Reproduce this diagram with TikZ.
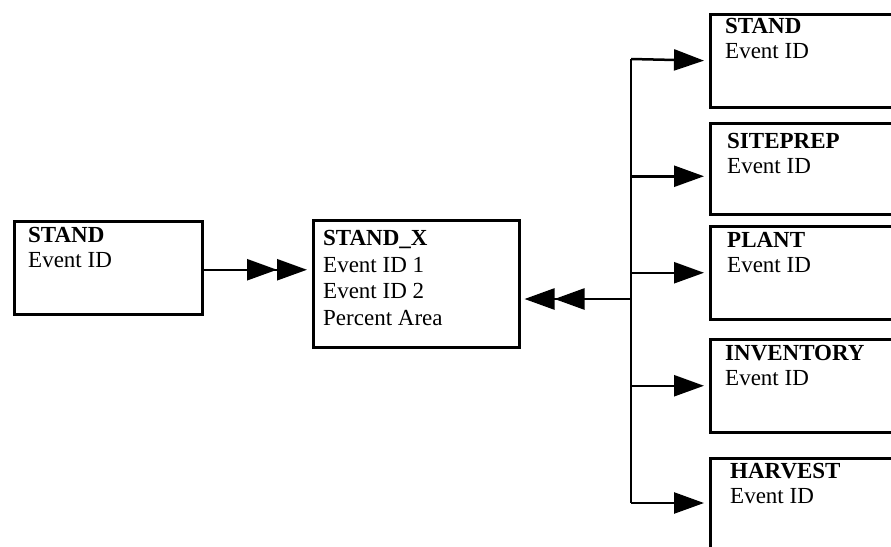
\documentclass[tikz,border=0pt]{standalone}
\usepackage{fontspec}
\setmainfont{Liberation Serif}
\usetikzlibrary{arrows.meta}

\begin{document}
\begin{tikzpicture}
[x=1pt,y=-1pt
,box/.style={draw,line width=2.5pt,anchor=north west,inner sep=0pt,minimum width=#1,minimum height=93pt}
,txt/.style={anchor=north west,inner sep=0pt,align=left,font=\fontsize{23}{25.5}\selectfont}
,con/.style={line width=2.5pt}
,one/.style={con,arrows={-Triangle[length=30pt,width=21pt]}}
,two/.style={con,arrows={-Triangle[length=30pt,width=21pt]Triangle[length=30pt,width=21pt]}}
]
\path[use as bounding box,clip] (0,0) rectangle (891,546);
% left and middle tables
\node[box=188pt] (stand) at (13,220) {};
\node[box=206pt,minimum height=127pt] (standx) at (312,219) {};
\node[txt] (standt) at ([shift={(15,7)}]stand.north west) {\textbf{STAND}\\Event ID};
\node[txt,font=\fontsize{23}{26.7}\selectfont] (standxt) at ([shift={(11,11)}]standx.north west) {\textbf{STAND\_X}\\Event ID 1\\Event ID 2\\Percent Area};
% right column of event tables
\node[box=200pt] (r1) at (709,13) {};
\node[box=200pt,minimum height=91pt] (r2) at (709,122) {};
\node[box=200pt] (r3) at (709,225) {};
\node[box=200pt] (r4) at (709,338) {};
\node[box=200pt] (r5) at (709,457) {};
\node[txt] (r1t) at ([shift={(16,5)}]r1.north west) {\textbf{STAND}\\Event ID};
\node[txt] (r2t) at ([shift={(18,11)}]r2.north west) {\textbf{SITEPREP}\\Event ID};
\node[txt] (r3t) at ([shift={(18,7)}]r3.north west) {\textbf{PLANT}\\Event ID};
\node[txt] (r4t) at ([shift={(16,7)}]r4.north west) {\textbf{INVENTORY}\\Event ID};
\node[txt] (r5t) at ([shift={(21,6)}]r5.north west) {\textbf{HARVEST}\\Event ID};
% links
\coordinate (a0) at ([yshift=-2pt]stand.east);
\coordinate (a2) at ([yshift=-7.5pt]r2.west);
\coordinate (bustop) at (631,59);
\coordinate (busbot) at (631,503);
\coordinate (busmid) at (631,299);
\draw[two,shorten >=5pt] (a0) -- (a0 -| standx.west);
\draw[two,shorten >=4pt] (busmid) -- (busmid -| standx.east);
\draw[con] (bustop) -- (busbot);
\draw[one,shorten >=5pt] (bustop) -- (r1.west);
\draw[one,shorten >=5pt] (bustop |- a2) -- (a2);
\draw[one,shorten >=5pt] (bustop |- r3.west) -- (r3.west);
\draw[one,shorten >=5pt] (bustop |- r4.west) -- (r4.west);
\draw[one,shorten >=5pt] (busbot) -- (busbot -| r5.west);
\end{tikzpicture}
\end{document}
